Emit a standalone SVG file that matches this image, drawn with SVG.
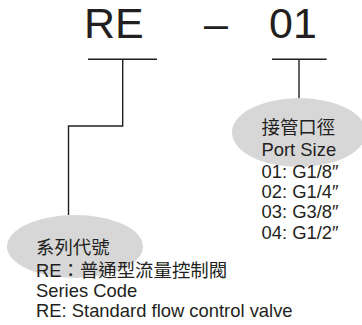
<svg xmlns="http://www.w3.org/2000/svg" width="362" height="325" viewBox="0 0 362 325">
<style>
.bg{fill:#ffffff}
.ell{fill:#d7d7d7;stroke:none}
.ln{fill:none;stroke:#231f20;stroke-width:1.4}
.big{font-family:"Liberation Sans",Arial,sans-serif;font-size:43px;fill:#231f20}
.t{font-family:"Liberation Sans","Noto Sans CJK TC",sans-serif;font-size:18.4px;fill:#231f20}
</style>
<rect class="bg" x="0" y="0" width="362" height="325"/>
<g id="code">
<text class="big" x="84" y="38">RE</text>
<text class="big" x="204" y="38">–</text>
<text class="big" x="269" y="38">01</text>
</g>
<g id="connectors">
<path class="ln" d="M88 59.3H157"/>
<path class="ln" d="M122.7 59.3V126H68.5V215"/>
<path class="ln" d="M272 59.3H326.7"/>
<path class="ln" d="M299 59.3V98"/>
</g>
<g id="port-size">
<ellipse class="ell" cx="299" cy="132.5" rx="67" ry="34.5"/>
<text class="t" x="261.5" y="133.5">接管口徑</text>
<text class="t" x="261.5" y="155.5">Port Size</text>
<text class="t" x="261.5" y="177.5">01: G1/8″</text>
<text class="t" x="261.5" y="198">02: G1/4″</text>
<text class="t" x="261.5" y="218">03: G3/8″</text>
<text class="t" x="261.5" y="238.5">04: G1/2″</text>
</g>
<g id="series-code">
<ellipse class="ell" cx="75" cy="246.5" rx="68" ry="31.5"/>
<text class="t" x="36" y="254">系列代號</text>
<text class="t" x="36" y="276.5">RE：普通型流量控制閥</text>
<text class="t" x="36" y="296.5">Series Code</text>
<text class="t" x="36" y="317">RE: Standard flow control valve</text>
</g>
</svg>
